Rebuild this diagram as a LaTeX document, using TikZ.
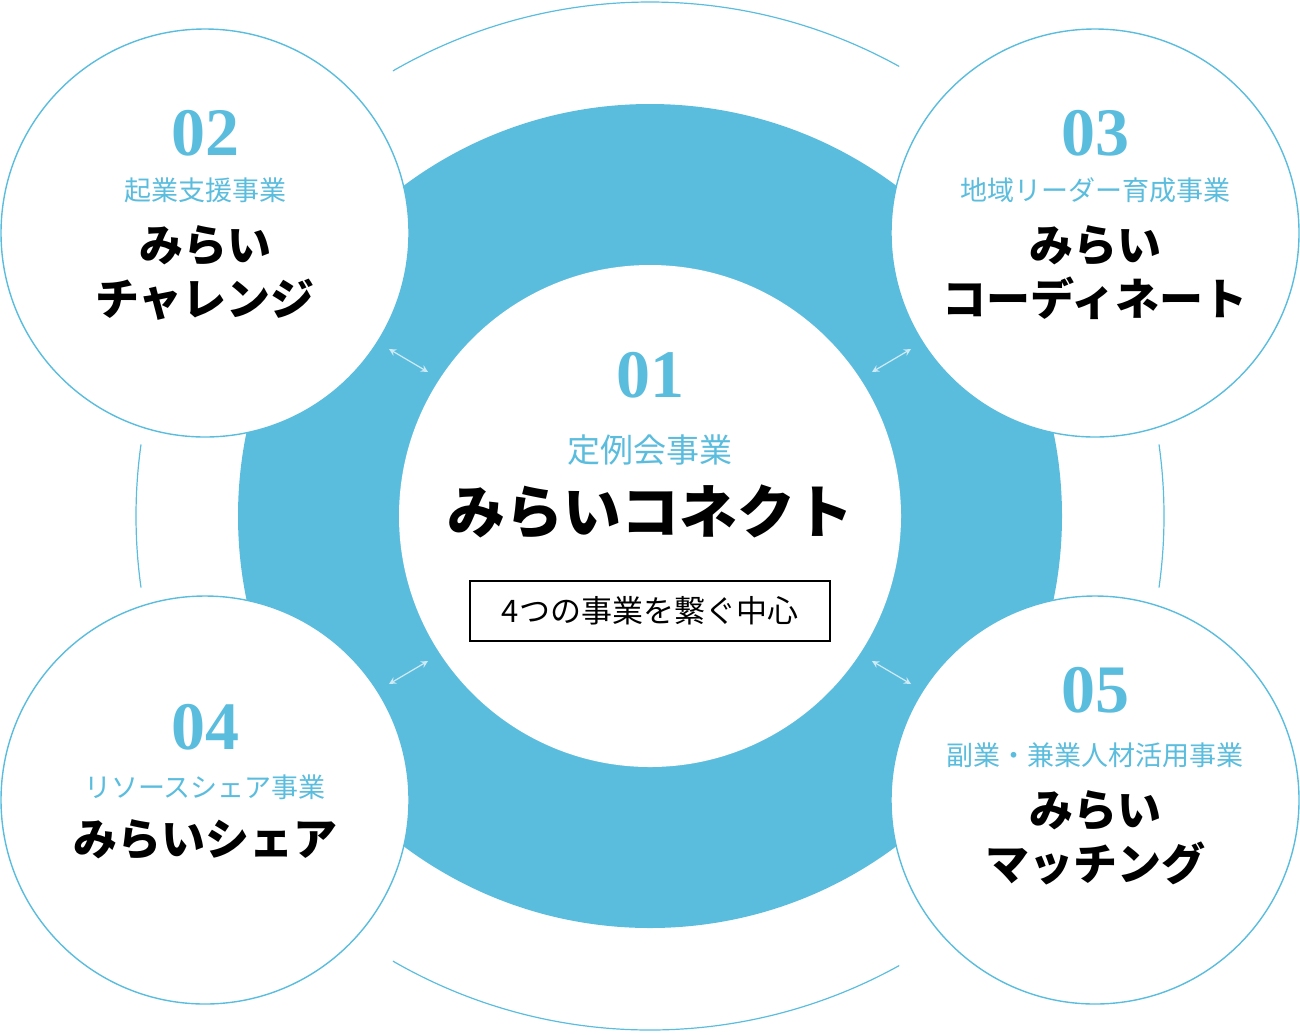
\documentclass[tikz,border=0pt]{standalone}
\usepackage{fontspec}
\newfontfamily\jp{Noto Sans CJK JP}
\newfontfamily\num{Liberation Serif}
\definecolor{mblue}{HTML}{5BBDDE}
\begin{document}
\begin{tikzpicture}[x=0.5pt,y=-0.5pt,
 sat/.style={circle,draw=mblue,line width=0.7pt,fill=white,minimum size=204pt,inner sep=0pt},
 numt/.style={text=mblue,font=\num\bfseries\fontsize{34}{34}\selectfont},
 subt/.style={text=mblue,font=\jp\fontsize{13.5}{14}\selectfont},
 bigt/.style={text=black,font=\jp\bfseries\fontsize{22}{27}\selectfont,align=center},
 arc/.style={draw=mblue,line width=0.6pt},
 dar/.style={<->,>=stealth,draw=white!70!mblue,line width=0.6pt}]
\useasboundingbox (0,0) rectangle (1300,1034);
\coordinate (c) at (650,516);
\draw[arc] (c) ++(61:514) arc[start angle=61,end angle=120,radius=514];
\draw[arc] (c) ++(172:514) arc[start angle=172,end angle=188,radius=514];
\draw[arc] (c) ++(-8:514) arc[start angle=-8,end angle=8,radius=514];
\draw[arc] (c) ++(240:514) arc[start angle=240,end angle=299,radius=514];
\fill[mblue] (c) circle[radius=412];
\node[circle,fill=white,minimum size=251pt,inner sep=0pt] (center) at (c) {};
\node[sat] (s2) at (205,233) {};
\node[sat] (s3) at (1095,233) {};
\node[sat] (s4) at (205,800) {};
\node[sat] (s5) at (1095,800) {};
\coordinate (a1) at (389,349); \coordinate (a2) at (428,372);
\coordinate (b1) at (911,349); \coordinate (b2) at (872,372);
\coordinate (d1) at (389,684); \coordinate (d2) at (428,661);
\coordinate (e1) at (911,684); \coordinate (e2) at (872,661);
\draw[dar] (a1)--(a2); \draw[dar] (b1)--(b2); \draw[dar] (d1)--(d2); \draw[dar] (e1)--(e2);
% center
\node[numt] (n1) at (650,375) {01};
\node[subt,font=\jp\fontsize{16.5}{17}\selectfont] (t1) at (650,450) {定例会事業};
\node[bigt,font=\jp\bfseries\fontsize{29}{30}\selectfont] (m1) at (650,512) {みらいコネクト};
\node[draw=black,line width=0.6pt,minimum width=180pt,minimum height=30pt,font=\jp\fontsize{15.5}{16}\selectfont] (box) at (650,611) {4つの事業を繋ぐ中心};
% 02
\node[numt] (n2) at (205,133) {02};
\node[subt] (t2) at (205,190) {起業支援事業};
\node[bigt] (m2) at (205,273) {みらい\\チャレンジ};
% 03
\node[numt] (n3) at (1095,133) {03};
\node[subt] (t3) at (1095,190) {地域リーダー育成事業};
\node[bigt] (m3) at (1095,273) {みらい\\コーディネート};
% 04
\node[numt] (n4) at (205,727) {04};
\node[subt] (t4) at (205,787) {リソースシェア事業};
\node[bigt] (m4) at (205,840) {みらいシェア};
% 05
\node[numt] (n5) at (1095,690) {05};
\node[subt] (t5) at (1095,755) {副業・兼業人材活用事業};
\node[bigt] (m5) at (1095,838) {みらい\\マッチング};
\end{tikzpicture}
\end{document}
